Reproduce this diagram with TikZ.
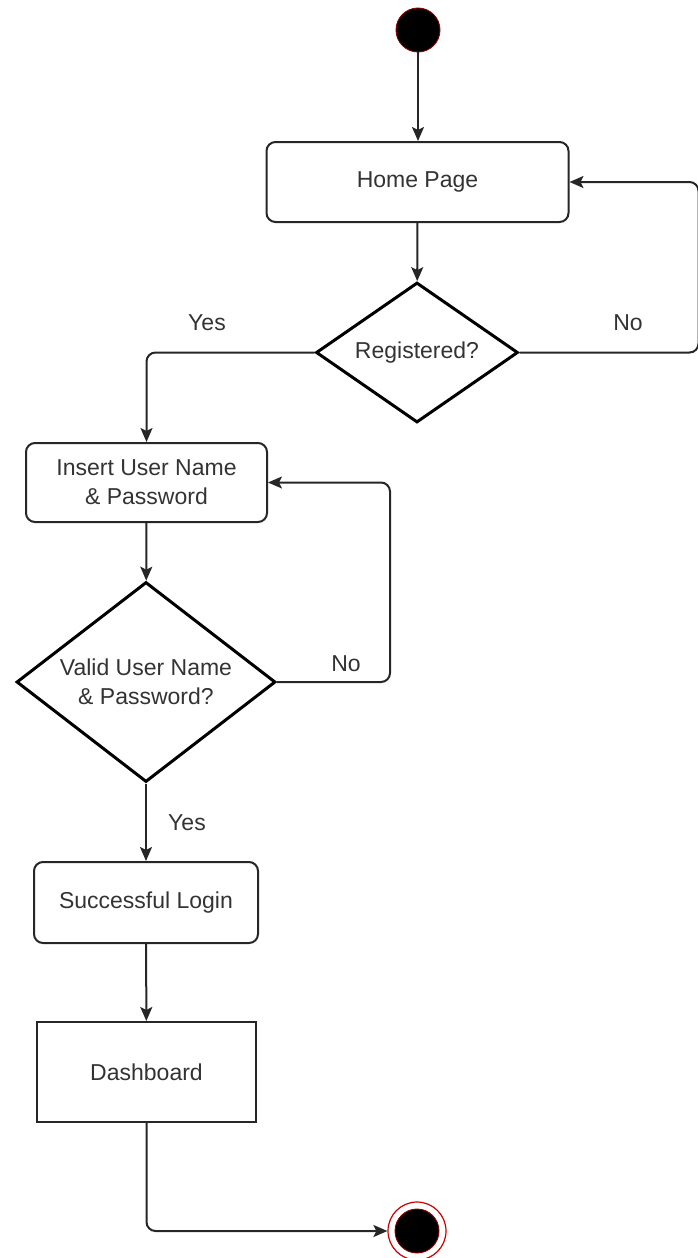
\documentclass[tikz,border=0pt]{standalone}
\usepackage{fontspec}
\setmainfont{Liberation Sans}
\usetikzlibrary{shapes.geometric,arrows.meta}
\begin{document}
\begin{tikzpicture}[x=1pt,y=-1pt,
  txt/.style={font=\fontsize{23}{29}\selectfont, text=black!80},
  rbox/.style={txt, draw=black!85, line width=2pt, rounded corners=9pt, inner sep=0pt, align=center},
  sbox/.style={txt, draw=black!85, line width=2pt, inner sep=0pt, align=center},
  dec/.style={txt, shape=diamond, draw=black, line width=3pt, inner sep=0pt, align=center},
  arr/.style={draw=black!85, line width=2pt, rounded corners=9pt, -{Stealth[length=14pt,width=12pt,inset=3pt]}},
  lbl/.style={txt}]
\useasboundingbox (0,0) rectangle (698,1258);
\node[circle, fill=black, draw=red!55!black, line width=0.9pt, minimum size=44pt, inner sep=0pt] (start) at (418,30) {};
\node[rbox, minimum width=302pt, minimum height=80pt] (home) at (417.5,182) {Home Page};
\node[dec, minimum width=202pt, minimum height=140pt, aspect=1.44] (reg) at (417,352.5) {Registered?};
\node[rbox, minimum width=241pt, minimum height=79pt] (ins) at (146.5,482.5) {Insert User Name\\\& Password};
\node[dec, minimum width=259pt, minimum height=200pt, aspect=1.3] (val) at (146,682) {Valid User Name\\\& Password?};
\node[rbox, minimum width=224pt, minimum height=81pt] (login) at (146,902.5) {Successful Login};
\node[sbox, minimum width=219pt, minimum height=100pt] (dash) at (146.5,1072) {Dashboard};
\node[circle, draw=red!80!black, fill=white, line width=1.2pt, minimum size=58pt, inner sep=0pt] (end) at (417,1231) {};
\fill[black, draw=red!55!black, line width=0.9pt] (end.center) circle (22pt);

\node[lbl] (yes1) at (207,323) {Yes};
\node[lbl] (no1) at (628,323) {No};
\node[lbl] (no2) at (346,664) {No};
\node[lbl] (yes2) at (187,823) {Yes};

\draw[arr] (start) -- (start |- home.north);
\draw[arr] (home) -- (reg);
\draw[arr] (reg.east) -- ++(179,0) |- (home.east);
\draw[arr] (reg.west) -| (ins.north);
\draw[arr] (ins) -- (val);
\draw[arr] (val.east) -- ++(113,0) |- (ins.east);
\draw[arr] (val) -- (login);
\draw[arr] (login) -- (dash);
\draw[arr] (dash.south) |- (end.west);
\end{tikzpicture}
\end{document}
